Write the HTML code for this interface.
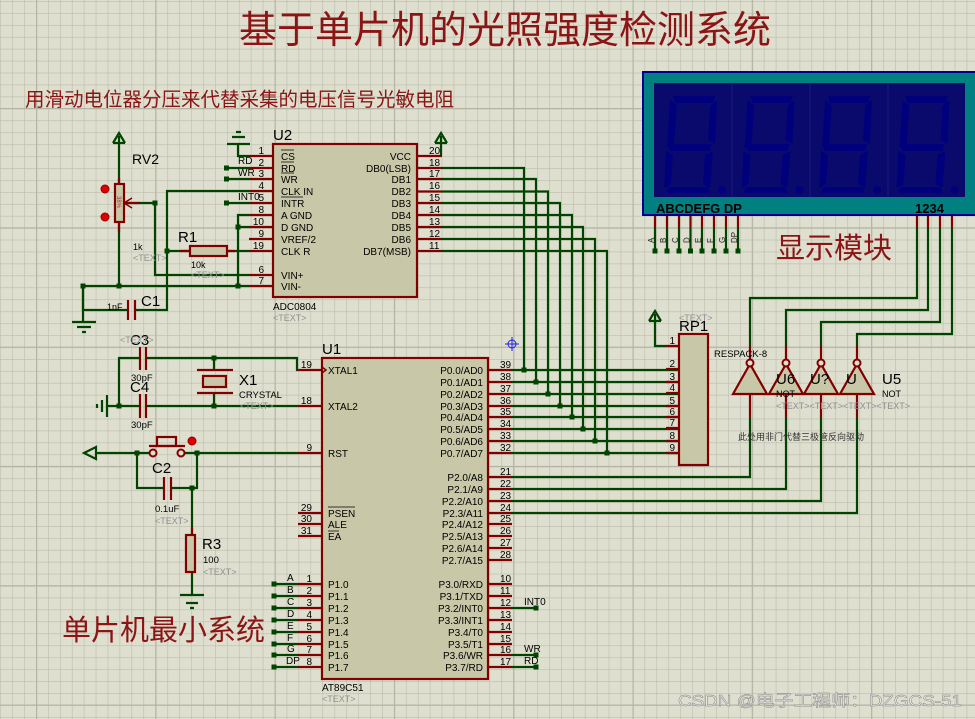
<!DOCTYPE html>
<html><head><meta charset="utf-8"><style>
html,body{margin:0;padding:0;background:#dfdfd0;}
svg{display:block;}
text{font-family:"Liberation Sans","Noto Sans CJK SC",sans-serif;}
</style></head><body>
<svg width="975" height="719" viewBox="0 0 975 719" xmlns="http://www.w3.org/2000/svg">
<defs>
<pattern id="g" x="0.3" y="1.1" width="11.93" height="11.93" patternUnits="userSpaceOnUse">
<path d="M0 0V11.93M0 0H11.93" stroke="#bcbcac" stroke-width="1.2" fill="none"/>
</pattern>
<pattern id="G" x="36" y="108" width="119.3" height="119.3" patternUnits="userSpaceOnUse">
<path d="M0 0V119.3M0 0H119.3" stroke="#b4b4a4" stroke-width="2.4" fill="none"/>
</pattern>
</defs>
<rect width="975" height="719" fill="#dfdfd0"/>
<rect width="975" height="719" fill="url(#g)"/>
<rect width="975" height="719" fill="url(#G)"/>

<!-- titles -->
<text x="505" y="43" font-size="38" fill="#8b1414" text-anchor="middle">基于单片机的光照强度检测系统</text>
<text x="25" y="106" font-size="19.5" fill="#8b1414">用滑动电位器分压来代替采集的电压信号光敏电阻</text>
<text x="776" y="258" font-size="29" fill="#8b1414">显示模块</text>
<text x="62" y="640" font-size="29" fill="#8b1414">单片机最小系统</text>

<!-- ===== WIRES (green) ===== -->
<g stroke="#004400" stroke-width="2.2" fill="none">
<path d="M442 168H524V370"/><path d="M442 179H536V382"/><path d="M442 191.5H548V394"/><path d="M442 203H560V406"/>
<path d="M442 215H572V417"/><path d="M442 227H583V429"/><path d="M442 239H595V441"/><path d="M442 251H607V453"/>
<path d="M512 370H679M512 382H679M512 394H679M512 406H679M512 417H679M512 429H679M512 441H679M512 453H679"/>
<path d="M441 156V136"/>
<path d="M666 346H655V314"/>
<path d="M512 477H750V417"/><path d="M512 489H786V417"/><path d="M512 501H821V417"/><path d="M512 513H857V417"/>
<path d="M917 228V298H750V345"/><path d="M928 228V310H786V345"/><path d="M940 228V322H821V345"/><path d="M952 228V334H857V345"/>
<path d="M655 228V251M667 228V251M679 228V251M690.5 228V251M702 228V251M714 228V251M726 228V251M738 228V251"/>
<path d="M119 136V184M119 222V286"/>
<path d="M124 203H155V275H249"/>
<path d="M249 191H167V310H135"/>
<path d="M128 310H83V286H249"/>
<path d="M83 286V322"/>
<path d="M167 251H190M227 251H249"/>
<path d="M249 215H238V286M238 227H249"/>
<path d="M249 156H238V144"/>
<path d="M227 168H249M227 179H249M227 203H249"/>
<path d="M140 358H119V406H140M107 406H119"/>
<path d="M146 358H297V370H298M146 406H298"/>
<path d="M214 358V370M214 393V406"/>
<path d="M96 453H150M184 453H298"/>
<path d="M137 453V488H164M171 488H197V453"/>
<path d="M192 488V535M192 572V595"/>
<path d="M274 584H298M274 596H298M274 608H298M274 620H298M274 632H298M274 644H298M274 655H298M274 667H298"/>
<path d="M512 608H536M512 655H536M512 667H536"/>
</g>

<!-- junction dots -->
<g fill="#004400">
<rect x="521.5" y="367.5" width="5" height="5"/><rect x="533.5" y="379.5" width="5" height="5"/><rect x="545.5" y="391.5" width="5" height="5"/><rect x="557.5" y="403.5" width="5" height="5"/>
<rect x="569.5" y="414.5" width="5" height="5"/><rect x="580.5" y="426.5" width="5" height="5"/><rect x="592.5" y="438.5" width="5" height="5"/><rect x="604.5" y="450.5" width="5" height="5"/>
<rect x="652.5" y="248.5" width="5" height="5"/><rect x="664.5" y="248.5" width="5" height="5"/><rect x="676.5" y="248.5" width="5" height="5"/><rect x="688" y="248.5" width="5" height="5"/>
<rect x="699.5" y="248.5" width="5" height="5"/><rect x="711.5" y="248.5" width="5" height="5"/><rect x="723.5" y="248.5" width="5" height="5"/><rect x="735.5" y="248.5" width="5" height="5"/>
<rect x="152.5" y="200.5" width="5" height="5"/><rect x="164.5" y="248.5" width="5" height="5"/><rect x="235.5" y="224.5" width="5" height="5"/><rect x="235.5" y="283.5" width="5" height="5"/>
<rect x="116.5" y="283.5" width="5" height="5"/><rect x="80.5" y="283.5" width="5" height="5"/>
<rect x="224" y="165.5" width="5" height="5"/><rect x="224" y="176.5" width="5" height="5"/><rect x="224" y="200.5" width="5" height="5"/>
<rect x="116.5" y="403.5" width="5" height="5"/><rect x="211.5" y="355.5" width="5" height="5"/><rect x="211.5" y="403.5" width="5" height="5"/>
<rect x="134.5" y="450.5" width="5" height="5"/><rect x="194.5" y="450.5" width="5" height="5"/><rect x="189.5" y="485.5" width="5" height="5"/>
<rect x="271.5" y="581.5" width="5" height="5"/><rect x="271.5" y="593.5" width="5" height="5"/><rect x="271.5" y="605.5" width="5" height="5"/><rect x="271.5" y="617.5" width="5" height="5"/>
<rect x="271.5" y="629.5" width="5" height="5"/><rect x="271.5" y="641.5" width="5" height="5"/><rect x="271.5" y="652.5" width="5" height="5"/><rect x="271.5" y="664.5" width="5" height="5"/>
<rect x="533.5" y="605.5" width="5" height="5"/><rect x="533.5" y="652.5" width="5" height="5"/><rect x="533.5" y="664.5" width="5" height="5"/>
</g>

<!-- power / ground symbols -->
<g stroke="#004400" stroke-width="2.2" fill="none">
<path d="M113 143L119 133L125 143M113 143H125"/>
<path d="M435 143L441 133L447 143M435 143H447"/>
<path d="M649 321L655 311L661 321M649 321H661"/>
<path d="M72 322H96M77 327H91M82 332H86"/>
<path d="M227 144H250M232 137H245M236 132H241"/>
<path d="M107 395V417M102 400V412M97 404V408"/>
<path d="M180 595H204M186 603H198M190 608H194"/>
<path d="M84 453L96 447V459Z"/>
</g>

<!-- ===== PINS (red) ===== -->
<g stroke="#800000" stroke-width="2.2" fill="none">
<path d="M249 156H273M249 168H273M249 179H273M249 191H273M249 203H273M249 215H273M249 227H273M249 239H273M249 251H273M249 275H273M249 286H273"/>
<path d="M417 156H442M417 168H442M417 179H442M417 191.5H442M417 203H442M417 215H442M417 227H442M417 239H442M417 251H442"/>
<path d="M298 370H322M298 406H322M298 453H322M298 513H322M298 524H322M298 536H322"/>
<path d="M298 584H322M298 596H322M298 608H322M298 620H322M298 632H322M298 644H322M298 655H322M298 667H322"/>
<path d="M488 370H512M488 382H512M488 394H512M488 406H512M488 417H512M488 429H512M488 441H512M488 453H512"/>
<path d="M488 477H512M488 489H512M488 501H512M488 513H512M488 524H512M488 536H512M488 548H512M488 560H512"/>
<path d="M488 584H512M488 596H512M488 608H512M488 620H512M488 632H512M488 644H512M488 655H512M488 667H512"/>
<path d="M666 346H679M666 369H679M666 382H679M666 393H679M666 406H679M666 417H679M666 428H679M666 441H679M666 453H679"/>
<path d="M655 215V228M667 215V228M679 215V228M690.5 215V228M702 215V228M714 215V228M726 215V228M738 215V228"/>
<path d="M917 215V228M928 215V228M940 215V228M952 215V228"/>
<path d="M750 345V362M786 345V362M821 345V362M857 345V362"/>
<path d="M750 394V417M786 394V417M821 394V417M857 394V417"/>
<path d="M119 184V178M119 222V232"/>
<path d="M124 203H140"/>
<path d="M190 251H180M227 251H235"/>
<path d="M128 300V320M135 300V320"/>
<path d="M140 347V370M146 347V370M140 394V418M146 394V418"/>
<path d="M197 370H233M197 393H233"/>
<path d="M164 477V500M171 477V500"/>
<path d="M149 446H185"/>
<path d="M192 528V535"/>
</g>

<!-- bodies -->
<g fill="#c8c8a8" stroke="#800000" stroke-width="2.2">
<rect x="273" y="144" width="144" height="153"/>
<rect x="322" y="358" width="166" height="321"/>
<rect x="679" y="334" width="29" height="131"/>
<rect x="115" y="184" width="9" height="38"/>
<rect x="190" y="246" width="37" height="10"/>
<rect x="203" y="376" width="23" height="11"/>
<rect x="186" y="535" width="9" height="37"/>
<rect x="157" y="437" width="19" height="9" fill="none"/>
<path d="M733 394L750 364L767 394Z"/><path d="M769 394L786 364L803 394Z"/><path d="M804 394L821 364L838 394Z"/><path d="M840 394L857 364L874 394Z"/>
</g>
<g fill="#dfdfd0" stroke="#800000" stroke-width="2">
<circle cx="750" cy="363" r="3.5"/><circle cx="786" cy="363" r="3.5"/><circle cx="821" cy="363" r="3.5"/><circle cx="857" cy="363" r="3.5"/>
<circle cx="153" cy="453" r="3.5"/><circle cx="181" cy="453" r="3.5"/>
</g>
<path d="M124 203L132 198M124 203L132 208" stroke="#800000" stroke-width="1.5"/>
<text x="117" y="196" font-size="6" fill="#a03030" transform="rotate(90 117 196)">38%</text>
<g fill="#e00000" stroke="#900000" stroke-width="1"><circle cx="105" cy="189" r="4"/><circle cx="105" cy="217" r="4"/><circle cx="192" cy="441" r="4"/></g>
<path d="M322 367L326 370L322 373" stroke="#800000" stroke-width="1.5" fill="none"/>

<!-- display -->
<rect x="643" y="72" width="335" height="143" fill="#008080" stroke="#000090" stroke-width="2"/>
<rect x="654" y="83" width="311" height="114" fill="#0a0a6c"/>
<path d="M732 83V197M810 83V197M888 83V197" stroke="#1a1a80" stroke-width="1"/>
<g fill="#00007c">
<g id="d"><path d="M673 96h42l-2 7h-38z"/><path d="M670 100l7 6-3 38-7 4z"/><path d="M717 100l-2 44-7-4 2-34z"/><path d="M668 144h44l-2 7h-40z"/><path d="M666 151l7 4-2 29-7 4z"/><path d="M713 151l-3 37-7-4 2-29z"/><path d="M668 187h40l2 6h-44z"/><circle cx="722" cy="190" r="4"/></g>
<use href="#d" x="77.5"/><use href="#d" x="155"/><use href="#d" x="232.5"/>
</g>
<text x="656" y="213" font-size="13" font-weight="bold" fill="#000">ABCDEFG  DP</text>
<text x="915" y="213" font-size="13" font-weight="bold" fill="#000">1234</text>
<g font-size="8" fill="#222">
<text transform="translate(654 243) rotate(-90)">A</text><text transform="translate(666 243) rotate(-90)">B</text><text transform="translate(678 243) rotate(-90)">C</text><text transform="translate(689.5 243) rotate(-90)">D</text>
<text transform="translate(701 243) rotate(-90)">E</text><text transform="translate(713 243) rotate(-90)">F</text><text transform="translate(725 243) rotate(-90)">G</text><text transform="translate(737 243) rotate(-90)">DP</text>
</g>

<!-- labels -->
<g fill="#000" font-size="10">
<text x="273" y="140" font-size="15">U2</text>
<text x="322" y="354" font-size="15">U1</text>
<text x="679" y="331" font-size="15">RP1</text>
<text x="132" y="164" font-size="14">RV2</text>
<text x="178" y="242" font-size="15">R1</text>
<text x="141" y="306" font-size="15">C1</text>
<text x="130" y="345" font-size="15">C3</text>
<text x="130" y="392" font-size="15">C4</text>
<text x="239" y="385" font-size="15">X1</text>
<text x="152" y="473" font-size="15">C2</text>
<text x="202" y="549" font-size="15">R3</text>
<text x="776" y="384" font-size="15">U6</text>
<text x="882" y="384" font-size="15">U5</text>
<text x="776" y="397" font-size="9">NOT</text><text x="882" y="397" font-size="9">NOT</text>
<text x="810" y="384" font-size="15">U?</text><text x="846" y="384" font-size="15">U</text>
<text x="714" y="357" font-size="9.5">RESPACK-8</text>
<text x="133" y="250" font-size="9">1k</text>
<text x="191" y="268" font-size="9">10k</text>
<text x="107" y="310" font-size="9">1nF</text>
<text x="131" y="381" font-size="9.5">30pF</text>
<text x="131" y="428" font-size="9.5">30pF</text>
<text x="239" y="398" font-size="9.5">CRYSTAL</text>
<text x="155" y="512" font-size="9.5">0.1uF</text>
<text x="203" y="563" font-size="9.5">100</text>
<text x="273" y="310" font-size="10">ADC0804</text>
<text x="322" y="691" font-size="10">AT89C51</text>
<text x="738" y="440" font-size="9" fill="#333">此处用非门代替三极管反向驱动</text>
<text x="238" y="164" font-size="10">RD</text><text x="238" y="176" font-size="10">WR</text><text x="238" y="200" font-size="10">INT0</text>
<text x="524" y="605" font-size="10">INT0</text><text x="524" y="652" font-size="10">WR</text><text x="524" y="664" font-size="10">RD</text>
</g>
<g fill="#909090" font-size="9">
<text x="133" y="261">&lt;TEXT&gt;</text><text x="191" y="278">&lt;TEXT&gt;</text><text x="273" y="321">&lt;TEXT&gt;</text>
<text x="120" y="343">&lt;TEXT&gt;</text><text x="240" y="409">&lt;TEXT&gt;</text><text x="155" y="524">&lt;TEXT&gt;</text>
<text x="203" y="575">&lt;TEXT&gt;</text><text x="322" y="702">&lt;TEXT&gt;</text><text x="679" y="321">&lt;TEXT&gt;</text>
<text x="776" y="409">&lt;TEXT&gt;&lt;TEXT&gt;&lt;TEXT&gt;&lt;TEXT&gt;</text>
</g>

<!-- ADC pin names -->
<g fill="#000" font-size="10">
<text x="281" y="160">CS</text><text x="281" y="172">RD</text><text x="281" y="183">WR</text><text x="281" y="195">CLK IN</text><text x="281" y="207">INTR</text>
<text x="281" y="219">A GND</text><text x="281" y="231">D GND</text><text x="281" y="243">VREF/2</text><text x="281" y="255">CLK R</text><text x="281" y="279">VIN+</text><text x="281" y="290">VIN-</text>
<path d="M281 150h13M281 162h13M281 173h13M281 197h22" stroke="#000" stroke-width="0.8"/>
<g text-anchor="end"><text x="411" y="160">VCC</text><text x="411" y="172">DB0(LSB)</text><text x="411" y="183">DB1</text><text x="411" y="195">DB2</text><text x="411" y="207">DB3</text><text x="411" y="219">DB4</text><text x="411" y="231">DB5</text><text x="411" y="243">DB6</text><text x="411" y="255">DB7(MSB)</text></g>
<g text-anchor="end"><text x="264" y="154">1</text><text x="264" y="166">2</text><text x="264" y="177">3</text><text x="264" y="189">4</text><text x="264" y="201">5</text><text x="264" y="213">8</text><text x="264" y="225">10</text><text x="264" y="237">9</text><text x="264" y="249">19</text><text x="264" y="273">6</text><text x="264" y="284">7</text></g>
<text x="429" y="154">20</text><text x="429" y="166">18</text><text x="429" y="177">17</text><text x="429" y="189">16</text><text x="429" y="201">15</text><text x="429" y="213">14</text><text x="429" y="225">13</text><text x="429" y="237">12</text><text x="429" y="249">11</text>
</g>

<!-- U1 pin names -->
<g fill="#000" font-size="10">
<text x="328" y="374">XTAL1</text><text x="328" y="410">XTAL2</text><text x="328" y="457">RST</text>
<text x="328" y="517">PSEN</text><text x="328" y="528">ALE</text><text x="328" y="540">EA</text>
<path d="M328 507h27M328 531h11" stroke="#000" stroke-width="0.8"/>
<text x="328" y="588">P1.0</text><text x="328" y="600">P1.1</text><text x="328" y="612">P1.2</text><text x="328" y="624">P1.3</text><text x="328" y="636">P1.4</text><text x="328" y="648">P1.5</text><text x="328" y="659">P1.6</text><text x="328" y="671">P1.7</text>
<g text-anchor="end">
<text x="312" y="368">19</text><text x="312" y="404">18</text><text x="312" y="451">9</text><text x="312" y="511">29</text><text x="312" y="522">30</text><text x="312" y="534">31</text>
<text x="312" y="582">1</text><text x="312" y="594">2</text><text x="312" y="606">3</text><text x="312" y="618">4</text><text x="312" y="630">5</text><text x="312" y="642">6</text><text x="312" y="653">7</text><text x="312" y="665">8</text>
<text x="483" y="374">P0.0/AD0</text><text x="483" y="386">P0.1/AD1</text><text x="483" y="398">P0.2/AD2</text><text x="483" y="410">P0.3/AD3</text><text x="483" y="421">P0.4/AD4</text><text x="483" y="433">P0.5/AD5</text><text x="483" y="445">P0.6/AD6</text><text x="483" y="457">P0.7/AD7</text>
<text x="483" y="481">P2.0/A8</text><text x="483" y="493">P2.1/A9</text><text x="483" y="505">P2.2/A10</text><text x="483" y="517">P2.3/A11</text><text x="483" y="528">P2.4/A12</text><text x="483" y="540">P2.5/A13</text><text x="483" y="552">P2.6/A14</text><text x="483" y="564">P2.7/A15</text>
<text x="483" y="588">P3.0/RXD</text><text x="483" y="600">P3.1/TXD</text><text x="483" y="612">P3.2/INT0</text><text x="483" y="624">P3.3/INT1</text><text x="483" y="636">P3.4/T0</text><text x="483" y="648">P3.5/T1</text><text x="483" y="659">P3.6/WR</text><text x="483" y="671">P3.7/RD</text>
</g>
<text x="500" y="368">39</text><text x="500" y="380">38</text><text x="500" y="392">37</text><text x="500" y="404">36</text><text x="500" y="415">35</text><text x="500" y="427">34</text><text x="500" y="439">33</text><text x="500" y="451">32</text>
<text x="500" y="475">21</text><text x="500" y="487">22</text><text x="500" y="499">23</text><text x="500" y="511">24</text><text x="500" y="522">25</text><text x="500" y="534">26</text><text x="500" y="546">27</text><text x="500" y="558">28</text>
<text x="500" y="582">10</text><text x="500" y="594">11</text><text x="500" y="606">12</text><text x="500" y="618">13</text><text x="500" y="630">14</text><text x="500" y="642">15</text><text x="500" y="653">16</text><text x="500" y="665">17</text>
<text x="287" y="581">A</text><text x="287" y="593">B</text><text x="287" y="605">C</text><text x="287" y="617">D</text><text x="287" y="629">E</text><text x="287" y="641">F</text><text x="287" y="652">G</text><text x="286" y="664">DP</text>
<g text-anchor="end"><text x="675" y="344">1</text><text x="675" y="367">2</text><text x="675" y="380">3</text><text x="675" y="391">4</text><text x="675" y="404">5</text><text x="675" y="415">6</text><text x="675" y="426">7</text><text x="675" y="439">8</text><text x="675" y="451">9</text></g>
</g>

<!-- crosshair -->
<g stroke="#2020e0" stroke-width="1" fill="none"><circle cx="512" cy="344" r="4"/><path d="M505 344H519M512 337V351"/></g>

<!-- watermark -->
<text x="678" y="706" font-size="16" textLength="284" lengthAdjust="spacingAndGlyphs" fill="#e8e8e8" stroke="#777" stroke-width="0.4">CSDN @电子工程师：DZGCS-51</text>
</svg>
</body></html>
